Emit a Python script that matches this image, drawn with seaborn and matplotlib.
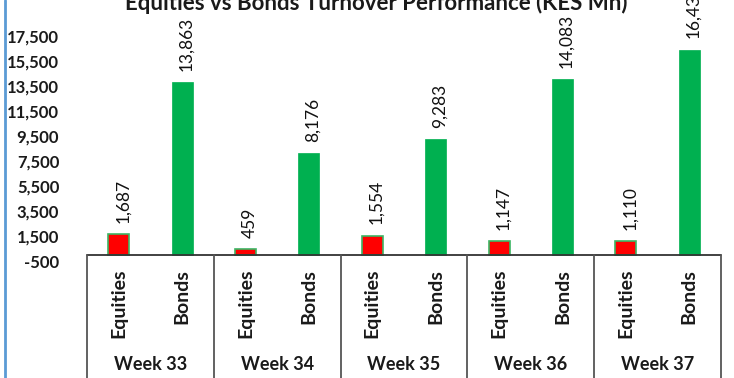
import matplotlib
matplotlib.use("Agg")
import matplotlib.pyplot as plt
import seaborn as sns
import pandas as pd
from matplotlib.lines import Line2D
from matplotlib.transforms import blended_transform_factory

weeks = ["Week 33", "Week 34", "Week 35", "Week 36", "Week 37"]
types = ["Equities", "Bonds"]
equities = [1687, 459, 1554, 1147, 1110]
bonds = [13863, 8176, 9283, 14083, 16432]
yticks = list(range(-500, 17501, 2000))
title = "Equities vs Bonds Turnover Performance (KES Mn)"

rows = []
for w, e, b in zip(weeks, equities, bonds):
    rows.append({"cat": f"{w}|Equities", "Type": "Equities", "value": e})
    rows.append({"cat": f"{w}|Bonds", "Type": "Bonds", "value": b})
df = pd.DataFrame(rows)

sns.set_theme(style="white")
plt.rcParams["font.family"] = ["Lato", "DejaVu Sans"]

W, H = 734, 378
fig = plt.figure(figsize=(W / 100, H / 100), dpi=100)
ymin, ymax = -500, 19000
px_per = 0.0125
y0 = 255
bottom_px = y0 + 500 * px_per
top_px = y0 - ymax * px_per
ax = fig.add_axes([87 / W, (H - bottom_px) / H, (721 - 87) / W, (bottom_px - top_px) / H])

palette = {"Equities": "#FF0000", "Bonds": "#00B050"}
sns.barplot(data=df, x="cat", y="value", hue="Type", palette=palette,
            dodge=False, width=0.33, ax=ax, legend=False, saturation=1)
for p in ax.patches:
    if p.get_facecolor()[0] > 0.9:
        p.set_edgecolor("#3CB563")
        p.set_linewidth(1.2)
    else:
        p.set_edgecolor("#00B050")
        p.set_linewidth(0.5)

ax.set_ylim(ymin, ymax)
ax.set_xlim(-0.5, len(df) - 0.5)
ax.set_yticks(yticks)
ax.set_yticklabels([f"{v:,}" for v in yticks], fontsize=12, fontweight="bold", color="#1a1a1a")
ax.tick_params(axis="y", length=0, pad=20)
ax.set_xticks([])
ax.set_xlabel("")
ax.set_ylabel("")
for s in ax.spines.values():
    s.set_visible(False)

# value labels
for i, v in enumerate(df["value"]):
    ax.annotate(f"{v:,}", xy=(i, v), xytext=(3, 8), textcoords="offset points",
                rotation=90, ha="center", va="bottom", fontsize=12.5,
                color="#111111", annotation_clip=False)

# zero axis line & category boxes (figure coords)
line_col = "#555555"
fx = lambda px: px / W
fy = lambda py: 1 - py / H
fig.add_artist(Line2D([fx(87), fx(721)], [fy(y0), fy(y0)], color="#333333", lw=1.3))
for k in range(len(weeks) + 1):
    xp = 87 + k * (721 - 87) / len(weeks)
    fig.add_artist(Line2D([fx(xp), fx(xp)], [fy(y0), 0], color=line_col, lw=1.3))

trans = blended_transform_factory(ax.transData, fig.transFigure)
for i, c in enumerate(df["cat"]):
    t = c.split("|")[1]
    fig.text(0, fy(269), t, transform=trans, rotation=90, ha="center", va="top",
             fontsize=14, fontweight="bold", color="#1a1a1a").set_x(i)
for g, w in enumerate(weeks):
    fig.text(2 * g + 0.5, fy(364), w, transform=trans, ha="center", va="center",
             fontsize=13, fontweight="bold", color="#1a1a1a")

# title (cropped at top)
fig.text(fx(376), fy(10), title, ha="center", va="baseline", fontsize=16,
         fontweight="bold", color="#1a1a1a")

# left blue border
fig.add_artist(Line2D([fx(5), fx(5)], [0, 1], color="#5B9BD5", lw=2))

fig.savefig("out.png", dpi=100)
